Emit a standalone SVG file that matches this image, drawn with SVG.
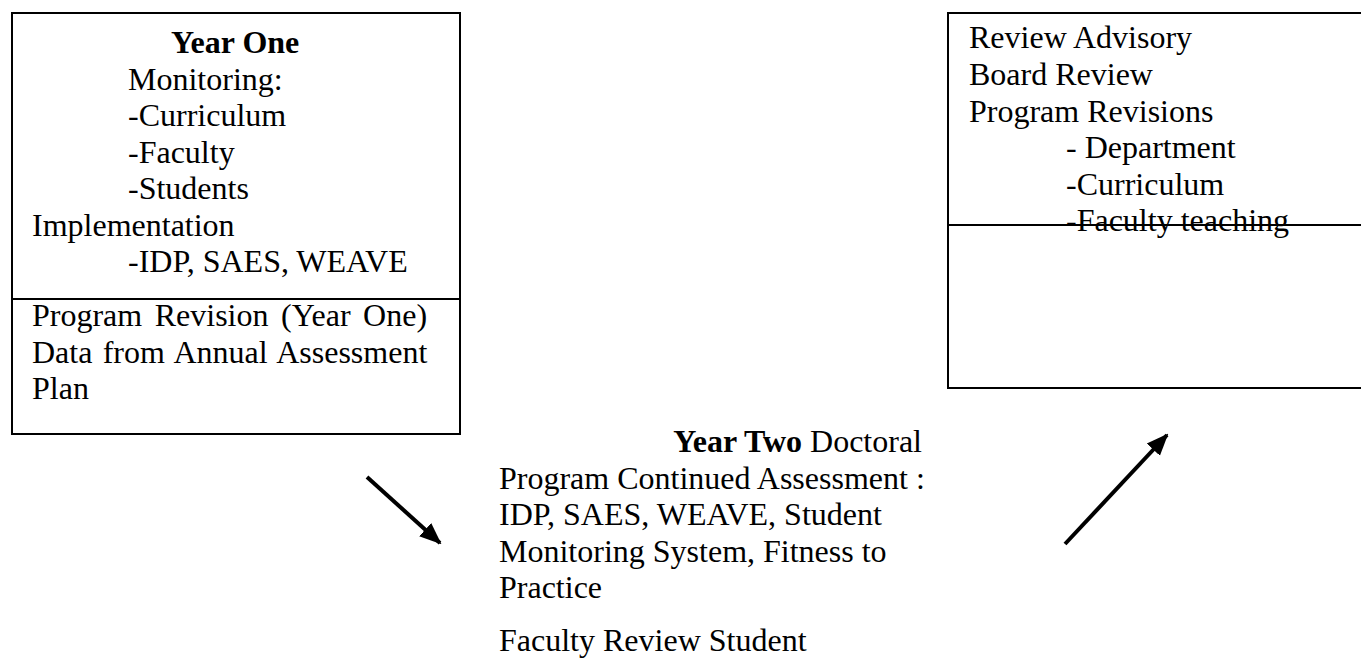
<svg xmlns="http://www.w3.org/2000/svg" width="1361" height="660" viewBox="0 0 1361 660">
<style>
.t{font-family:"Liberation Serif","Times New Roman",serif;font-size:32px;fill:#000}
.b{font-weight:bold}
.box{fill:#fff;stroke:#000;stroke-width:2}
.div{stroke:#000;stroke-width:2}
.arr{stroke:#000;stroke-width:4;fill:none;marker-end:url(#ah)}
</style>
<defs>
<marker id="ah" markerUnits="userSpaceOnUse" markerWidth="22" markerHeight="22" viewBox="0 0 22 22" refX="20" refY="11" orient="auto">
<path d="M0,2 L22,11 L0,20 Z" fill="#000"/>
</marker>
</defs>
<rect width="1361" height="660" fill="#fff"/>
<g id="year-one">
<rect class="box" x="12" y="13" width="448" height="421"/>
<line class="div" x1="12" y1="299" x2="460" y2="299"/>
<text class="t b" x="171" y="53">Year One</text>
<text class="t" x="128" y="89.5">Monitoring:</text>
<text class="t" x="128" y="126">-Curriculum</text>
<text class="t" x="128" y="162.5">-Faculty</text>
<text class="t" x="128" y="199">-Students</text>
<text class="t" x="32" y="235.5">Implementation</text>
<text class="t" x="128" y="272">-IDP, SAES, WEAVE</text>
<text class="t" x="32" y="326" word-spacing="4.5">Program Revision (Year One)</text>
<text class="t" x="32" y="362.5" word-spacing="2.3">Data from Annual Assessment</text>
<text class="t" x="32" y="399">Plan</text>
</g>
<g id="review">
<rect class="box" x="948" y="13" width="440" height="375"/>
<text class="t" x="969" y="48">Review Advisory</text>
<text class="t" x="969" y="85">Board Review</text>
<text class="t" x="969" y="121.5">Program Revisions</text>
<text class="t" x="1066" y="158">- Department</text>
<text class="t" x="1066" y="194.5">-Curriculum</text>
<text class="t" x="1066" y="231">-Faculty teaching</text>
<line class="div" x1="948" y1="225" x2="1361" y2="225"/>
</g>
<g id="year-two">
<text class="t" x="922" y="452" text-anchor="end"><tspan class="b">Year Two</tspan> Doctoral</text>
<text class="t" x="499" y="488.5">Program Continued Assessment :</text>
<text class="t" x="499" y="525">IDP, SAES, WEAVE, Student</text>
<text class="t" x="499" y="561.5">Monitoring System, Fitness to</text>
<text class="t" x="499" y="598">Practice</text>
<text class="t" x="499" y="651">Faculty Review Student</text>
</g>
<g id="connectors">
<line class="arr" x1="367" y1="477" x2="440" y2="543"/>
<line class="arr" x1="1065" y1="544" x2="1167" y2="435"/>
</g>
</svg>
